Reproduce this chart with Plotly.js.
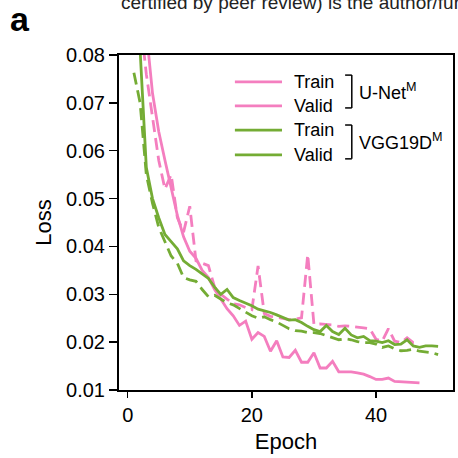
<!DOCTYPE html>
<html>
<head>
<meta charset="utf-8">
<script src="https://cdn.plot.ly/plotly-3.0.1.min.js"></script>
<style>html,body{margin:0;padding:0;background:#fff;}#chart{width:458px;height:458px;}</style>
</head>
<body>
<div id="chart"></div>
<script>
// ---- data ----
const unetEpochs = [1,2,3,4,5,6,7,8,9,10,11,12,13,14,15,16,17,18,19,20,21,22,23,24,25,26,27,28,29,30,31,32,33,34,35,36,37,38,39,40,41,42,43,44,45,46,47];
const unetTrain = [0.14,0.11,0.085,0.072,0.064,0.058,0.052,0.0465,0.042,0.039,0.0375,0.035,0.0335,0.031,0.029,0.027,0.0255,0.0235,0.0244,0.0206,0.022,0.0212,0.0181,0.0203,0.0169,0.0168,0.0183,0.0158,0.0158,0.0178,0.0146,0.0146,0.016,0.0138,0.0138,0.0138,0.0136,0.0133,0.0128,0.0122,0.0122,0.0125,0.0118,0.0117,0.0117,0.0116,0.0115];
const unetValid = [0.10,0.088,0.076,0.067,0.058,0.052,0.055,0.046,0.043,0.0484,0.037,0.0365,0.036,0.0315,0.030,0.029,0.028,0.0278,0.0272,0.0268,0.0359,0.026,0.0254,0.0252,0.025,0.0247,0.0248,0.0251,0.0383,0.0237,0.0238,0.0237,0.0236,0.0233,0.0234,0.0233,0.0232,0.023,0.0228,0.0206,0.0202,0.0228,0.0202,0.0199,0.0209,0.0199,0.0199];
const vggEpochs = [1,2,3,4,5,6,7,8,9,10,11,12,13,14,15,16,17,18,19,20,21,22,23,24,25,26,27,28,29,30,31,32,33,34,35,36,37,38,39,40,41,42,43,44,45,46,47,48,49,50];
const vggTrain = [0.10,0.081,0.0565,0.050,0.046,0.0425,0.041,0.0395,0.037,0.036,0.0352,0.0342,0.0333,0.0315,0.030,0.031,0.0293,0.0287,0.0282,0.0276,0.0269,0.0266,0.0262,0.0257,0.0251,0.0246,0.0247,0.0241,0.0233,0.0226,0.0222,0.0235,0.0222,0.0216,0.0229,0.0215,0.0209,0.0212,0.0203,0.0202,0.0199,0.0203,0.0195,0.0196,0.0205,0.0192,0.0189,0.0192,0.0192,0.0191];
const vggValid = [0.0763,0.070,0.055,0.049,0.044,0.041,0.038,0.0365,0.0335,0.033,0.0327,0.031,0.0295,0.0298,0.029,0.0282,0.0278,0.027,0.0262,0.0255,0.025,0.0253,0.0247,0.0242,0.0235,0.0228,0.0224,0.0223,0.022,0.022,0.0218,0.0214,0.0209,0.0205,0.0207,0.0205,0.0201,0.0199,0.0199,0.0196,0.0189,0.0192,0.0186,0.0182,0.0183,0.0185,0.0181,0.018,0.0178,0.0174];
const yTicks = [0.01,0.02,0.03,0.04,0.05,0.06,0.07,0.08];
const yTickLabels = ["0.01","0.02","0.03","0.04","0.05","0.06","0.07","0.08"];
const xTicks = [0,20,40];
const xTickLabels = ["0","20","40"];
const legendItems = ["Train","Valid","Train","Valid"];
const modelNames = ["U-Net<sup>M</sup>","VGG19D<sup>M</sup>"];

// ---- styles ----
const PINK = "#F47EBF";
const GREEN = "#74AC34";
const FONT = "Liberation Sans, Arial, sans-serif";
const DASH = "12px,6px";
const LW = 2.8;

const traces = [
  {x: unetEpochs, y: unetTrain, mode: "lines", line: {color: PINK, width: LW}, showlegend: false},
  {x: unetEpochs, y: unetValid, mode: "lines", line: {color: PINK, width: LW, dash: DASH}, showlegend: false},
  {x: vggEpochs, y: vggTrain, mode: "lines", line: {color: GREEN, width: LW}, showlegend: false},
  {x: vggEpochs, y: vggValid, mode: "lines", line: {color: GREEN, width: LW, dash: DASH}, showlegend: false}
];

// custom legend (paper coords)
const rowY = [0.920, 0.848, 0.776, 0.702];
const rowColors = [PINK, PINK, GREEN, GREEN];
const shapes = [];
const annotations = [];
rowY.forEach((yy, i) => {
  shapes.push({type: "line", xref: "paper", yref: "paper", x0: 0.347, x1: 0.488, y0: yy, y1: yy, line: {color: rowColors[i], width: LW}});
  annotations.push({xref: "paper", yref: "paper", x: 0.518, y: yy, xanchor: "left", yanchor: "middle", text: legendItems[i], showarrow: false, font: {family: FONT, size: 18, color: "#000"}});
});
const brackets = [[0.940, 0.842], [0.791, 0.690]];
brackets.forEach((b, i) => {
  shapes.push({type: "line", xref: "paper", yref: "paper", x0: 0.697, x1: 0.697, y0: b[0], y1: b[1], line: {color: "#000", width: 1.5}});
  shapes.push({type: "line", xref: "paper", yref: "paper", x0: 0.677, x1: 0.697, y0: b[0], y1: b[0], line: {color: "#000", width: 1.5}});
  shapes.push({type: "line", xref: "paper", yref: "paper", x0: 0.677, x1: 0.697, y0: b[1], y1: b[1], line: {color: "#000", width: 1.5}});
  annotations.push({xref: "paper", yref: "paper", x: 0.712, y: (b[0] + b[1]) / 2, xanchor: "left", yanchor: "middle", text: modelNames[i], showarrow: false, font: {family: FONT, size: 18, color: "#000"}});
});
annotations.push({xref: "paper", yref: "paper", x: -0.332, y: 1.107, xanchor: "left", yanchor: "middle", text: "<b>a</b>", showarrow: false, font: {family: FONT, size: 34, color: "#000"}});
annotations.push({xref: "paper", yref: "paper", x: 0.0, y: 1.158, xanchor: "left", yanchor: "middle", text: "certified by peer review) is the author/funder", showarrow: false, font: {family: FONT, size: 19, color: "#222"}});

const layout = {
  width: 458, height: 458,
  margin: {l: 119, r: 5, t: 55, b: 67.5},
  paper_bgcolor: "#fff", plot_bgcolor: "#fff",
  showlegend: false,
  font: {family: FONT, color: "#000"},
  xaxis: {
    range: [-1.4, 52.4], tickvals: xTicks, ticktext: xTickLabels,
    showgrid: false, zeroline: false, showline: true, mirror: true,
    linecolor: "#000", linewidth: 2, ticks: "outside", ticklen: 6, tickwidth: 1.5, tickcolor: "#000",
    tickfont: {family: FONT, size: 20, color: "#000"},
    title: {text: "Epoch", font: {family: FONT, size: 22, color: "#000"}, standoff: 9}
  },
  yaxis: {
    range: [0.01, 0.08], tickvals: yTicks, ticktext: yTickLabels,
    showgrid: false, zeroline: false, showline: true, mirror: true,
    linecolor: "#000", linewidth: 2, ticks: "outside", ticklen: 8, tickwidth: 1.5, tickcolor: "#000",
    tickfont: {family: FONT, size: 20, color: "#000"},
    title: {text: "Loss", font: {family: FONT, size: 22, color: "#000"}, standoff: 8}
  },
  shapes: shapes,
  annotations: annotations
};

Plotly.newPlot("chart", traces, layout, {displayModeBar: false, staticPlot: true});
</script>
</body>
</html>
